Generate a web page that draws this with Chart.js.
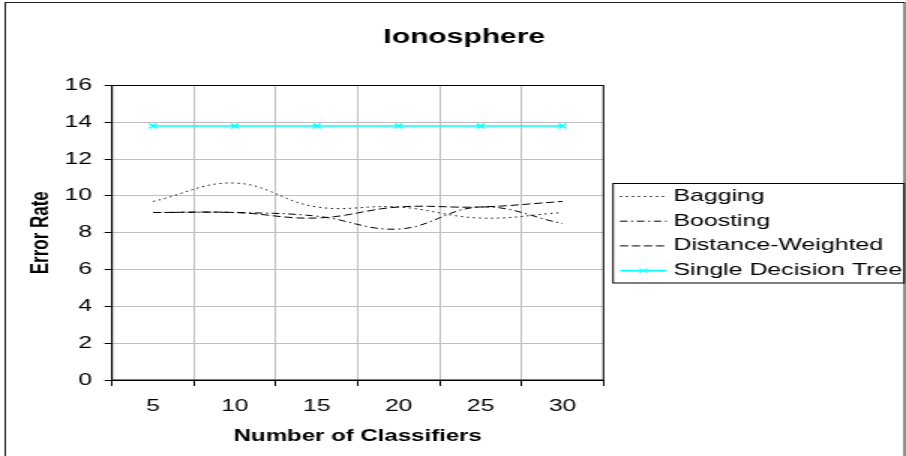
<!DOCTYPE html>
<html>
<head>
<meta charset="utf-8">
<title>Ionosphere</title>
<script src="https://cdn.jsdelivr.net/npm/chart.js"></script>
<style>
  html, body { margin: 0; padding: 0; background: #fff; }
  #wrap { width: 906px; height: 456px; overflow: hidden; position: relative; }
  /* the original picture is stretched sideways, so draw narrow and stretch */
  #chart { transform: scaleX(1.5); transform-origin: 0 0; }
</style>
</head>
<body>
<div id="wrap"><canvas id="chart" width="604" height="456"></canvas></div>
<script>
// data
const classifiers = ["5", "10", "15", "20", "25", "30"];
const bagging = [9.7, 10.7, 9.4, 9.4, 8.8, 9.1];
const boosting = [9.1, 9.1, 8.9, 8.2, 9.4, 8.5];
const distanceWeighted = [9.1, 9.1, 8.8, 9.4, 9.4, 9.7];
const singleTree = [13.8, 13.8, 13.8, 13.8, 13.8, 13.8];
const yTicks = [0, 2, 4, 6, 8, 10, 12, 14, 16];

const FONT = '"Liberation Sans", Arial, sans-serif';

// white page, plot frame, outer border and the boxed legend
const frame = {
  id: "frame",
  beforeDraw(chart) {
    const ctx = chart.ctx;
    ctx.save();
    ctx.fillStyle = "#fff";
    ctx.fillRect(0, 0, chart.width, chart.height);
    ctx.restore();
  },
  afterDraw(chart) {
    const { ctx, chartArea: a } = chart;
    ctx.save();
    ctx.strokeStyle = "#000";
    ctx.lineWidth = 1;
    ctx.strokeRect(a.left, a.top, a.right - a.left, a.bottom - a.top);
    ctx.strokeStyle = "#222";
    ctx.strokeRect(3.5, 2.5, 599.5, 480);

    // legend
    const lx = 408.7, ly = 183.5, lw = 194, lh = 99.5;
    ctx.strokeStyle = "#000";
    ctx.strokeRect(lx, ly, lw, lh);
    const rowY = [196.5, 221.2, 245.9, 270.6];
    ctx.font = "16.6px " + FONT;
    ctx.textBaseline = "middle";
    ctx.textAlign = "left";
    chart.data.datasets.forEach((ds, i) => {
      const y = rowY[i];
      ctx.save();
      ctx.strokeStyle = ds.borderColor;
      ctx.lineWidth = ds.borderWidth;
      ctx.setLineDash(ds.borderDash || []);
      ctx.beginPath();
      ctx.moveTo(413.3, y);
      ctx.lineTo(444.4, y);
      ctx.stroke();
      ctx.setLineDash([]);
      if (ds.pointRadius > 0) {
        const cx = 428.8, r = ds.pointRadius * 0.72;
        ctx.lineWidth = 1;
        ctx.beginPath();
        ctx.moveTo(cx - r, y - r); ctx.lineTo(cx + r, y + r);
        ctx.moveTo(cx - r, y + r); ctx.lineTo(cx + r, y - r);
        ctx.stroke();
      }
      ctx.restore();
      ctx.fillStyle = "#000";
      ctx.fillText(ds.label, 448.9, y);
    });
    ctx.restore();
  }
};

new Chart(document.getElementById("chart"), {
  type: "line",
  data: {
    labels: classifiers,
    datasets: [
      {
        label: "Bagging",
        data: bagging,
        borderColor: "#000",
        borderWidth: 1,
        borderDash: [1.3, 2.7],
        pointRadius: 0,
        tension: 0.4,
        fill: false
      },
      {
        label: "Boosting",
        data: boosting,
        borderColor: "#000",
        borderWidth: 1,
        borderDash: [5, 2.5, 1.3, 2.5],
        pointRadius: 0,
        tension: 0.4,
        fill: false
      },
      {
        label: "Distance-Weighted",
        data: distanceWeighted,
        borderColor: "#000",
        borderWidth: 1,
        borderDash: [5.5, 2.5],
        pointRadius: 0,
        tension: 0.4,
        fill: false
      },
      {
        label: "Single Decision Tree",
        data: singleTree,
        borderColor: "#00ffff",
        backgroundColor: "#00ffff",
        borderWidth: 1.5,
        pointStyle: "crossRot",
        pointRadius: 3.6,
        pointBorderWidth: 1.3,
        pointBorderColor: "#00ffff",
        tension: 0.4,
        fill: false
      }
    ]
  },
  options: {
    responsive: false,
    animation: false,
    devicePixelRatio: 1,
    layout: { padding: { left: 15, top: 0, right: 0, bottom: 0 } },
    plugins: {
      legend: { display: false },
      tooltip: { enabled: false },
      title: {
        display: true,
        text: "Ionosphere",
        color: "#000",
        font: { family: FONT, size: 20, weight: "bold" },
        padding: { top: 25, bottom: 36.5 }
      }
    },
    scales: {
      x: {
        offset: true,
        grid: { offset: true, color: "#c0c0c0", tickColor: "#000", tickLength: 6 },
        border: { color: "#000", width: 1 },
        ticks: { color: "#000", font: { family: FONT, size: 16.4 }, padding: 11, maxRotation: 0 },
        title: {
          display: true,
          text: "Number of Classifiers",
          color: "#000",
          font: { family: FONT, size: 16, weight: "bold" },
          padding: { top: 0, bottom: 10 }
        },
        afterFit(s) { s.height = 76; }
      },
      y: {
        min: 0,
        max: 16,
        afterBuildTicks(s) { s.ticks = yTicks.map(v => ({ value: v })); },
        grid: { color: "#c0c0c0", tickColor: "#000", tickLength: 5 },
        border: { color: "#000", width: 1 },
        ticks: { color: "#000", font: { family: FONT, size: 16.4 }, padding: 8.4 },
        title: {
          display: true,
          text: "Error Rate",
          color: "#000",
          font: { family: FONT, size: 17, weight: "bold" },
          padding: { top: 2, bottom: 0 }
        },
        afterFit(s) { s.width = 59.7; }
      },
      // empty right-hand strip that holds the legend
      side: {
        position: "right",
        display: true,
        grid: { display: false, drawOnChartArea: false },
        border: { display: false },
        ticks: { display: false },
        afterFit(s) { s.width = 201.7; }
      }
    }
  },
  plugins: [frame]
});
</script>
</body>
</html>
